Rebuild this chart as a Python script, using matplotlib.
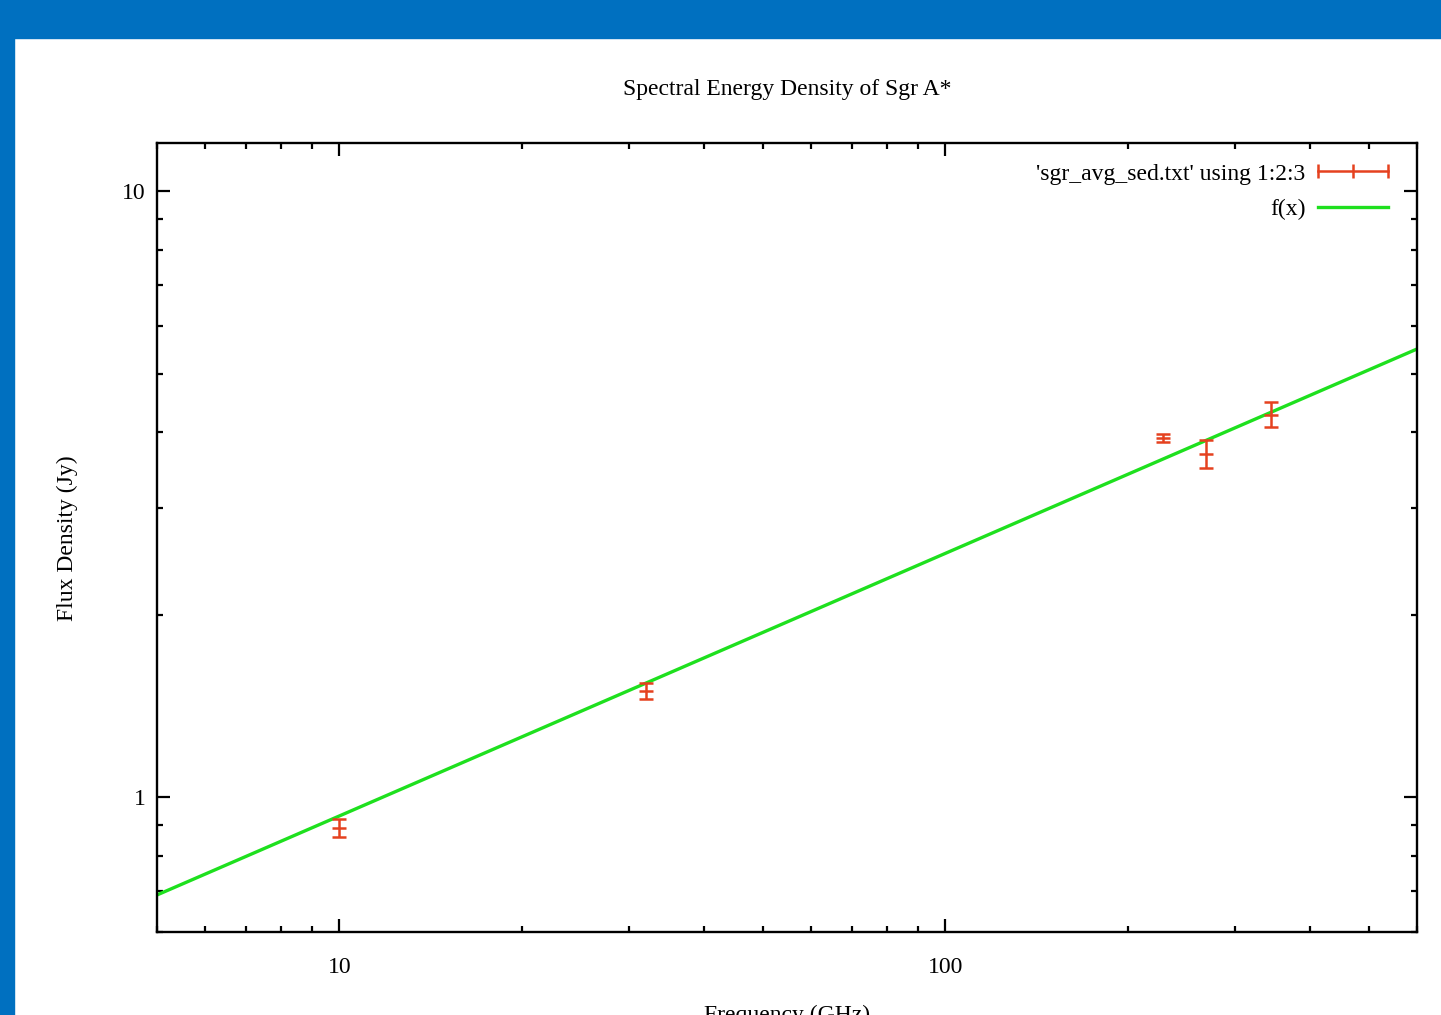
import matplotlib
matplotlib.use("Agg")
import matplotlib.pyplot as plt
import numpy as np
from matplotlib.legend_handler import HandlerBase
from matplotlib.lines import Line2D
from matplotlib.patches import Rectangle
from matplotlib.ticker import LogLocator, NullFormatter, FixedLocator, FixedFormatter

# data
freq = [10, 32, 229, 269, 344]            # GHz
flux = [0.892, 1.497, 3.92, 3.69, 4.28]   # Jy
flux_err = [0.03, 0.045, 0.06, 0.2, 0.2]

# power-law fit f(x) = amp * x**index
amp = 0.344
index = 0.433

xmin, xmax = 5, 600
ymin, ymax = 0.6, 12

red = '#e5411f'
green = '#1ee01e'
blue = '#0070c0'
fs = 17

plt.rcParams['font.family'] = ['Liberation Serif', 'DejaVu Serif']

fig = plt.figure(figsize=(14.41, 10.15), dpi=100)
fig.patches.append(Rectangle((0, 1 - 38 / 1015), 1, 38 / 1015, transform=fig.transFigure,
                             color=blue, zorder=0))
fig.patches.append(Rectangle((0, 0), 14 / 1441, 1, transform=fig.transFigure,
                             color=blue, zorder=0))

ax = fig.add_axes([157 / 1441, 83 / 1015, 1260 / 1441, 789 / 1015])
ax.set_xscale('log')
ax.set_yscale('log')
ax.set_xlim(xmin, xmax)
ax.set_ylim(ymin, ymax)

xs = np.geomspace(xmin, xmax, 50)
ax.plot(xs, amp * xs ** index, color=green, lw=2.4, label='f(x)', zorder=2)

eb = ax.errorbar(freq, flux, yerr=flux_err, fmt='_', color=red, ms=10, mew=1.8,
                 elinewidth=1.8, capsize=5, capthick=1.8, zorder=3,
                 label="'sgr_avg_sed.txt' using 1:2:3")


class HandlerXErr(HandlerBase):
    def create_artists(self, legend, orig_handle, xdescent, ydescent, width, height,
                       fontsize, trans):
        y = height / 2 - ydescent
        x0 = -xdescent
        x1 = x0 + width
        line = Line2D([x0, x1], [y, y], color=red, lw=1.8)
        ticks = Line2D([x0, (x0 + x1) / 2, x1], [y, y, y], ls='none', marker='|',
                       ms=10, mew=1.8, color=red)
        line.set_transform(trans)
        ticks.set_transform(trans)
        return [line, ticks]


handles, labels = ax.get_legend_handles_labels()
order = [labels.index("'sgr_avg_sed.txt' using 1:2:3"), labels.index('f(x)')]
ax.legend([handles[i] for i in order], [labels[i] for i in order],
          handler_map={eb: HandlerXErr()}, loc='upper right',
          bbox_to_anchor=(1 - 29 / 1260, 1 - 20 / 789), borderaxespad=0, borderpad=0,
          frameon=False, markerfirst=False, fontsize=fs, handlelength=2.95,
          handletextpad=0.55, labelspacing=0.6)

ax.xaxis.set_major_locator(FixedLocator([10, 100]))
ax.xaxis.set_major_formatter(FixedFormatter(['10', '100']))
ax.xaxis.set_minor_locator(LogLocator(base=10, subs=np.arange(2, 10)))
ax.xaxis.set_minor_formatter(NullFormatter())
ax.yaxis.set_major_locator(FixedLocator([1, 10]))
ax.yaxis.set_major_formatter(FixedFormatter(['1', '10']))
ax.yaxis.set_minor_locator(LogLocator(base=10, subs=np.arange(2, 10)))
ax.yaxis.set_minor_formatter(NullFormatter())

ax.tick_params(which='both', direction='in', top=True, right=True, width=1.6,
               labelsize=fs)
ax.tick_params(which='major', length=9.5)
ax.tick_params(which='minor', length=4.5)
ax.tick_params(axis='x', which='major', pad=18)
ax.tick_params(axis='y', which='major', pad=8)
for s in ax.spines.values():
    s.set_linewidth(1.7)

fig.text(787 / 1441, 1 - 89 / 1015, 'Spectral Energy Density of Sgr A*', ha='center',
         va='center', fontsize=fs)
fig.text(67 / 1441, 1 - 538 / 1015, 'Flux Density (Jy)', rotation=90, ha='center',
         va='center', fontsize=fs)
fig.text(787 / 1441, 1 - 1005 / 1015, 'Frequency (GHz)', ha='center', va='top',
         fontsize=fs)

fig.savefig('out.png', dpi=100)
